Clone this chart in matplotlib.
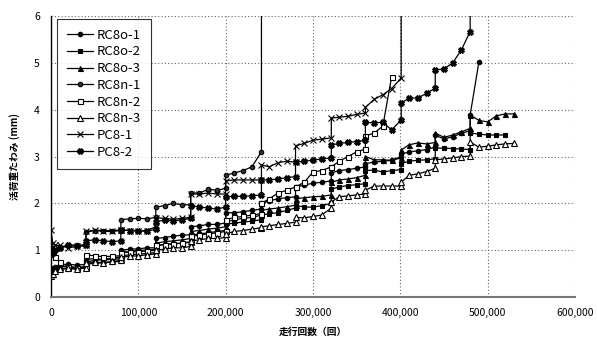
import matplotlib
matplotlib.use("Agg")
import matplotlib.pyplot as plt
from matplotlib.ticker import FuncFormatter

plt.rcParams["font.family"] = ["Noto Sans CJK JP", "DejaVu Sans"]

# -------- data --------
# load cycles in thousands; a step appears twice where the load was raised
cycles_k = [0, 2, 5, 10, 20, 30, 40,
            40, 50, 60, 70, 80,
            80, 90, 100, 110, 120,
            120, 130, 140, 150, 160,
            160, 170, 180, 190, 200,
            200, 210, 220, 230, 241,
            241, 250, 260, 270, 280,
            280, 290, 300, 310, 321,
            321, 330, 340, 350, 360,
            360, 370, 380, 390, 401,
            401, 410, 420, 430, 440,
            440, 450, 460, 470, 480,
            480, 490, 500, 510, 520, 530]

rc8o_1 = [0.60, 0.62, 0.65, 0.68, 0.70, 0.68, 0.70,
          0.80, 0.82, 0.80, 0.83, 0.85,
          1.00, 1.02, 1.03, 1.05, 1.05,
          1.25, 1.27, 1.30, 1.32, 1.33,
          1.50, 1.52, 1.55, 1.55, 1.58,
          1.80, 1.80, 1.82, 1.85, 1.88,
          2.00, 2.05, 2.10, 2.12, 2.14,
          2.35, 2.39, 2.43, 2.45, 2.48,
          2.65, 2.70, 2.72, 2.75, 2.78,
          2.85, 2.88, 2.90, 2.92, 3.00,
          3.05, 3.10, 3.12, 3.15, 3.20,
          3.45, 3.38, 3.42, 3.50, 3.55,
          3.89, 5.02]

rc8o_2 = [0.50, 0.55, 0.58, 0.60, 0.60, 0.60, 0.62,
          0.70, 0.72, 0.73, 0.75, 0.76,
          0.88, 0.90, 0.92, 0.93, 0.95,
          1.10, 1.12, 1.13, 1.15, 1.18,
          1.32, 1.35, 1.37, 1.40, 1.42,
          1.55, 1.58, 1.60, 1.62, 1.65,
          1.75, 1.78, 1.80, 1.85, 1.90,
          1.96, 1.92, 1.92, 1.95, 2.00,
          2.30, 2.35, 2.38, 2.40, 2.42,
          2.70, 2.71, 2.67, 2.70, 2.72,
          2.85, 2.90, 2.92, 2.93, 2.95,
          3.18, 3.18, 3.17, 3.16, 3.15,
          3.50, 3.48, 3.46, 3.46, 3.46]

rc8o_3 = [0.55, 0.60, 0.62, 0.65, 0.65, 0.63, 0.65,
          0.75, 0.78, 0.80, 0.80, 0.82,
          0.95, 0.97, 1.00, 1.00, 1.02,
          1.15, 1.18, 1.20, 1.22, 1.25,
          1.40, 1.42, 1.45, 1.47, 1.50,
          1.60, 1.65, 1.68, 1.70, 1.75,
          1.85, 1.88, 1.90, 1.93, 1.96,
          2.10, 2.12, 2.14, 2.15, 2.18,
          2.45, 2.50, 2.52, 2.55, 2.60,
          3.00, 2.93, 2.93, 2.92, 2.97,
          3.14, 3.25, 3.29, 3.27, 3.30,
          3.50, 3.41, 3.46, 3.53, 3.60,
          3.89, 3.77, 3.74, 3.87, 3.91, 3.91]

rc8n_1 = [1.00, 0.90, 1.00, 1.05, 1.12, 1.10, 1.12,
          1.38, 1.42, 1.40, 1.40, 1.42,
          1.65, 1.67, 1.68, 1.67, 1.70,
          1.92, 1.95, 2.00, 1.97, 1.97,
          2.22, 2.22, 2.30, 2.28, 2.32,
          2.60, 2.65, 2.70, 2.78, 3.10,
          10.0]

rc8n_2 = [1.05, 0.95, 0.85, 0.75, 0.65, 0.62, 0.65,
          0.90, 0.88, 0.86, 0.87, 0.88,
          0.95, 0.96, 0.97, 0.98, 1.00,
          1.10, 1.12, 1.14, 1.15, 1.17,
          1.30, 1.32, 1.35, 1.37, 1.40,
          1.65, 1.70, 1.72, 1.75, 1.78,
          2.00, 2.10, 2.22, 2.28, 2.35,
          2.35, 2.45, 2.67, 2.70, 2.78,
          2.78, 2.90, 3.00, 3.10, 3.16,
          3.44, 3.50, 3.65, 4.70]

rc8n_3 = [0.45, 0.50, 0.55, 0.60, 0.62, 0.60, 0.62,
          0.72, 0.75, 0.73, 0.76, 0.78,
          0.85, 0.87, 0.88, 0.90, 0.92,
          1.00, 1.02, 1.05, 1.05, 1.08,
          1.20, 1.22, 1.25, 1.25, 1.27,
          1.35, 1.40, 1.42, 1.45, 1.48,
          1.50, 1.52, 1.55, 1.57, 1.60,
          1.70, 1.69, 1.72, 1.75, 1.90,
          2.03, 2.14, 2.16, 2.18, 2.20,
          2.28, 2.37, 2.37, 2.37, 2.37,
          2.45, 2.60, 2.63, 2.68, 2.75,
          2.93, 2.95, 2.97, 3.00, 3.01,
          3.31, 3.20, 3.22, 3.25, 3.27, 3.28]

pc8_1 = [1.43, 1.15, 1.10, 1.10, 1.05, 1.08, 1.10,
         1.40, 1.43, 1.42, 1.42, 1.43,
         1.43, 1.42, 1.40, 1.42, 1.50,
         1.69, 1.68, 1.66, 1.68, 1.70,
         2.20, 2.20, 2.22, 2.20, 2.20,
         2.48, 2.50, 2.50, 2.50, 2.50,
         2.82, 2.78, 2.87, 2.90, 2.88,
         3.23, 3.28, 3.35, 3.37, 3.40,
         3.82, 3.84, 3.86, 3.90, 3.93,
         4.05, 4.22, 4.32, 4.45, 4.68,
         10.0]

pc8_2 = [1.05, 0.95, 1.00, 1.05, 1.10, 1.08, 1.10,
         1.20, 1.22, 1.20, 1.18, 1.20,
         1.43, 1.42, 1.42, 1.40, 1.45,
         1.60, 1.65, 1.62, 1.65, 1.68,
         1.95, 1.92, 1.90, 1.88, 1.92,
         2.14, 2.15, 2.15, 2.16, 2.18,
         2.50, 2.50, 2.52, 2.55, 2.57,
         2.88, 2.90, 2.92, 2.95, 2.97,
         3.25, 3.28, 3.30, 3.32, 3.35,
         3.73, 3.72, 3.73, 3.57, 3.78,
         4.14, 4.25, 4.25, 4.35, 4.46,
         4.85, 4.87, 5.00, 5.28, 5.67,
         10.0]

series_names = ["RC8o-1", "RC8o-2", "RC8o-3", "RC8n-1",
                "RC8n-2", "RC8n-3", "PC8-1", "PC8-2"]
series_vals = [rc8o_1, rc8o_2, rc8o_3, rc8n_1, rc8n_2, rc8n_3, pc8_1, pc8_2]

# marker, face colour, size
styles = [("o", "black", 3.2),
          ("s", "black", 3.2),
          ("^", "black", 3.6),
          ("o", "#333333", 3.2),
          ("s", "white", 3.6),
          ("^", "white", 3.8),
          ("x", "black", 4.0),
          ("X", "black", 4.0)]

fig = plt.figure(figsize=(5.97, 3.42), dpi=100)
ax = fig.add_axes([0.0854, 0.1316, 0.8777, 0.8214])

for name, vals, (mk, fc, ms) in zip(series_names, series_vals, styles):
    xs = [c * 1000 for c in cycles_k[:len(vals)]]
    ax.plot(xs, vals, color="black", lw=0.9, marker=mk, ms=ms,
            mfc=fc, mec="black", mew=0.8, label=name)

ax.set_xlim(0, 600000)
ax.set_ylim(0, 6)
ax.set_xticks(range(0, 600001, 100000))
ax.set_yticks(range(0, 7))
ax.xaxis.set_major_formatter(FuncFormatter(lambda v, p: f"{int(v):,}"))
ax.tick_params(labelsize=7.5, length=0, pad=8)

ax.grid(True, color="#666666", ls=(0, (1, 2)), lw=0.8)
for side in ["top", "right"]:
    ax.spines[side].set_visible(False)
ax.spines["left"].set_linewidth(1.0)
ax.spines["bottom"].set_linewidth(1.5)
ax.spines["bottom"].set_color("#777777")

ax.set_xlabel("走行回数（回）", fontsize=7, fontweight="bold", labelpad=6)
ax.set_ylabel("活荷重たわみ (mm)", fontsize=7, fontweight="bold", labelpad=10)

leg = ax.legend(loc="upper left", bbox_to_anchor=(0.011, 0.99), fontsize=9.5,
                frameon=True, fancybox=False, edgecolor="black",
                handlelength=2.0, handletextpad=0.3, labelspacing=0.28,
                borderpad=0.75, borderaxespad=0)
leg.get_frame().set_linewidth(0.8)

fig.savefig("out.png", dpi=100)
